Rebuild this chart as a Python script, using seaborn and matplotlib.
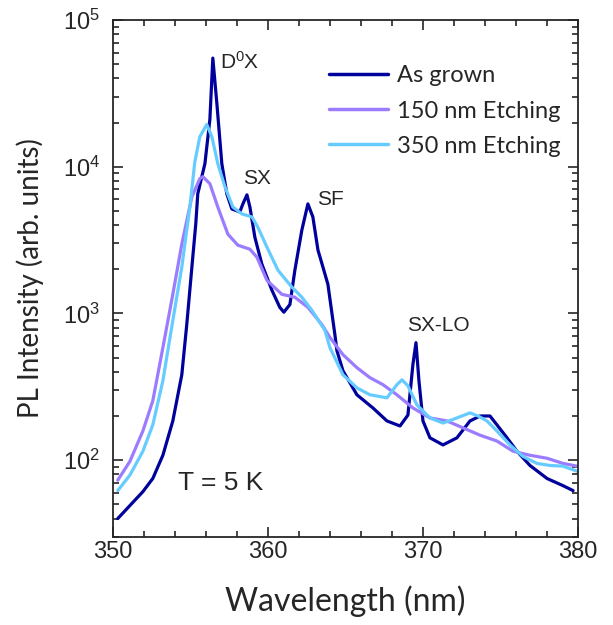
import numpy as np
import pandas as pd
import matplotlib.pyplot as plt
import seaborn as sns
from matplotlib.ticker import LogLocator, MultipleLocator, FixedLocator, NullFormatter

# wavelength (nm) / PL intensity
wl_grown = [350.32, 351.10, 351.94, 352.58, 353.23, 353.87, 354.45, 354.77, 355.10, 355.35,
            355.48, 355.74, 355.94, 356.26, 356.45, 356.71, 357.03, 357.35, 357.68, 358.19,
            358.39, 358.65, 358.84, 359.16, 359.61, 360.26, 360.77, 361.03, 361.42, 361.74,
            362.19, 362.58, 362.90, 363.23, 363.55, 363.87, 364.32, 364.45, 364.84, 365.74,
            366.77, 367.68, 368.52, 369.03, 369.35, 369.55, 369.74, 370.00, 370.45, 371.29,
            372.19, 373.03, 373.68, 374.32, 374.77, 375.42, 376.06, 376.90, 378.00, 379.03,
            379.68]
pl_grown = [40, 49, 61, 75, 108, 185, 382, 841, 2070, 4070,
            6540, 8550, 10500, 21000, 55000, 27000, 10500, 6540, 5150, 4920,
            5580, 6430, 5320, 3310, 2170, 1440, 1100, 1020, 1150, 1970,
            3700, 5580, 4550, 2700, 2070, 1580, 718, 558, 407, 279,
            227, 185, 171, 203, 448, 632, 348, 185, 142, 127,
            142, 185, 200, 200, 174, 142, 115, 92, 75, 67,
            62]

wl_150 = [350.32, 351.10, 351.94, 352.58, 353.23, 353.87, 354.45, 355.10, 355.61, 355.81,
          356.26, 356.77, 357.42, 358.06, 358.84, 359.29, 359.94, 360.90, 361.74, 362.58,
          363.48, 364.00, 364.84, 365.74, 366.58, 367.42, 368.32, 369.35, 370.45, 371.55,
          372.58, 373.68, 374.77, 375.81, 376.90, 378.00, 379.03, 379.94]
pl_150 = [73, 98, 158, 254, 585, 1350, 2970, 6240, 8280, 8550,
          7660, 5320, 3470, 2920, 2740, 2420, 1680, 1350, 1290, 1100,
          841, 686, 524, 427, 365, 327, 279, 227, 194, 185,
          166, 148, 135, 115, 108, 103, 95, 91]

wl_350 = [350.32, 351.10, 351.94, 352.58, 353.23, 353.87, 354.45, 354.97, 355.29, 355.61,
          356.06, 356.39, 356.77, 357.23, 357.74, 358.32, 358.97, 359.35, 359.94, 360.65,
          361.55, 362.19, 362.84, 363.68, 364.00, 364.84, 365.74, 366.58, 367.68, 368.32,
          368.65, 369.03, 369.61, 370.45, 371.29, 372.19, 373.03, 373.55, 374.13, 374.77,
          375.61, 376.45, 377.35, 378.19, 379.03, 379.94]
pl_350 = [62, 79, 115, 174, 348, 895, 2070, 5320, 10800, 16000,
          19400, 16000, 10500, 7300, 5320, 4770, 4550, 3880, 2830, 1970,
          1510, 1290, 1050, 766, 585, 382, 311, 279, 266, 327,
          353, 321, 238, 194, 179, 194, 210, 200, 185, 158,
          127, 106, 95, 92, 91, 84]

labels = ['As grown', '150 nm Etching', '350 nm Etching']
colors = ['#00009C', '#9B7CFF', '#66CCFF']

df = pd.concat([
    pd.DataFrame({'wl': wl_grown, 'pl': pl_grown, 'sample': labels[0]}),
    pd.DataFrame({'wl': wl_150, 'pl': pl_150, 'sample': labels[1]}),
    pd.DataFrame({'wl': wl_350, 'pl': pl_350, 'sample': labels[2]}),
])

sns.set_style('ticks')
plt.rcParams['font.family'] = ['Liberation Sans', 'DejaVu Sans']
plt.rcParams['mathtext.default'] = 'regular'

fig = plt.figure(figsize=(6.13, 6.25), dpi=100)
ax = fig.add_axes([0.184, 0.141, 0.759, 0.827])

sns.lineplot(data=df, x='wl', y='pl', hue='sample', palette=colors, linewidth=2.3,
             sort=False, estimator=None, ax=ax)

ax.set_yscale('log')
ax.set_xlim(350, 380)
ax.set_ylim(30, 1e5)

ax.xaxis.set_major_locator(MultipleLocator(10))
ax.xaxis.set_minor_locator(MultipleLocator(2))
ax.yaxis.set_major_locator(FixedLocator([1e2, 1e3, 1e4, 1e5]))
ax.set_yticklabels(['10$^{2}$', '10$^{3}$', '10$^{4}$', '10$^{5}$'])
ax.yaxis.set_minor_locator(LogLocator(base=10, subs=np.arange(2, 10)))
ax.yaxis.set_minor_formatter(NullFormatter())

ax.tick_params(which='both', direction='in', top=True, right=True, width=1.2, labelsize=17)
ax.tick_params(which='major', length=7)
ax.tick_params(which='minor', length=4)
ax.tick_params(axis='x', which='major', pad=3)
ax.tick_params(axis='y', which='major', pad=9)
for s in ax.spines.values():
    s.set_linewidth(1.3)

ax.set_xlabel('Wavelength (nm)', fontsize=23, family='Lato', labelpad=16)
ax.set_ylabel('PL Intensity (arb. units)', fontsize=20, family='Lato', labelpad=14)

ax.text(356.9, 5.2e4, 'D$^{0}$X', fontsize=15, va='center')
ax.text(358.4, 8300, 'SX', fontsize=15, va='center')
ax.text(363.2, 6000, 'SF', fontsize=15, va='center')
ax.text(369.0, 830, 'SX-LO', fontsize=15, va='center')
ax.text(354.2, 70, 'T = 5 K', fontsize=19, va='center')

leg = ax.legend(loc='upper left', frameon=False, prop={'family': 'Lato', 'size': 17},
                handlelength=2.5, labelspacing=0.6, handletextpad=0.35, borderpad=0,
                bbox_to_anchor=(0.44, 0.935))
for line in leg.get_lines():
    line.set_linewidth(2.5)

fig.savefig('out.png', dpi=100)
